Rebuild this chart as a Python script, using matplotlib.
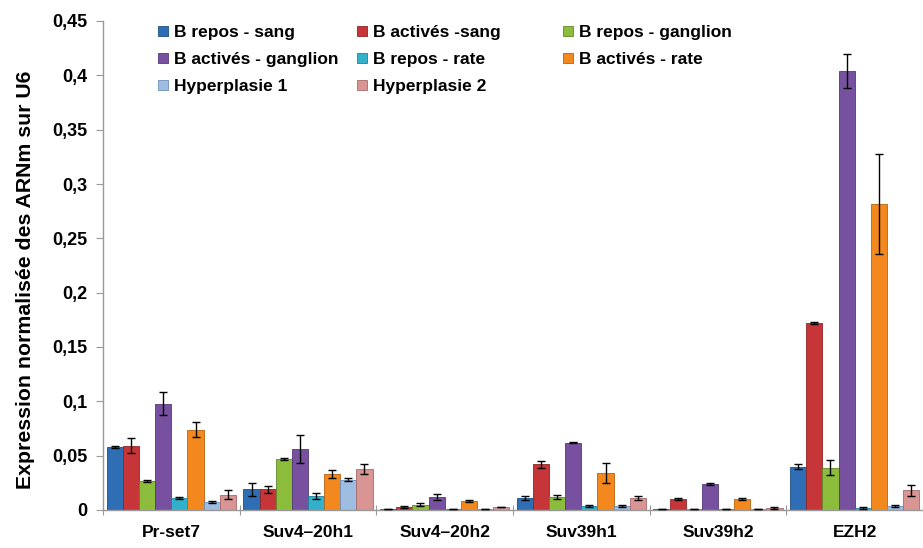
import matplotlib
matplotlib.use("Agg")
import matplotlib.pyplot as plt
import numpy as np

plt.rcParams['font.family'] = ['Liberation Sans', 'DejaVu Sans']

genes = ["Pr-set7", "Suv4\u201320h1", "Suv4\u201320h2", "Suv39h1", "Suv39h2", "EZH2"]
series_names = ["B repos - sang", "B activés -sang", "B repos - ganglion",
                "B activés - ganglion", "B repos - rate", "B activés - rate",
                "Hyperplasie 1", "Hyperplasie 2"]

b_repos_sang = [0.058, 0.019, 0.001, 0.011, 0.0006, 0.040]
b_act_sang = [0.059, 0.019, 0.003, 0.042, 0.010, 0.172]
b_repos_gang = [0.027, 0.047, 0.005, 0.012, 0.0006, 0.039]
b_act_gang = [0.098, 0.056, 0.012, 0.062, 0.024, 0.404]
b_repos_rate = [0.011, 0.013, 0.001, 0.004, 0.0006, 0.002]
b_act_rate = [0.074, 0.033, 0.008, 0.034, 0.010, 0.282]
hyper1 = [0.007, 0.028, 0.0008, 0.004, 0.0005, 0.004]
hyper2 = [0.014, 0.038, 0.003, 0.011, 0.002, 0.018]

err_repos_sang = [0.001, 0.006, 0.0, 0.002, 0.0, 0.002]
err_act_sang = [0.007, 0.003, 0.001, 0.0035, 0.001, 0.001]
err_repos_gang = [0.001, 0.001, 0.001, 0.002, 0.0, 0.007]
err_act_gang = [0.011, 0.013, 0.0025, 0.0005, 0.001, 0.016]
err_repos_rate = [0.001, 0.003, 0.0, 0.001, 0.0, 0.001]
err_act_rate = [0.007, 0.004, 0.001, 0.0095, 0.001, 0.046]
err_hyper1 = [0.001, 0.001, 0.0, 0.001, 0.0, 0.001]
err_hyper2 = [0.004, 0.0045, 0.0, 0.002, 0.001, 0.005]

values = [b_repos_sang, b_act_sang, b_repos_gang, b_act_gang,
          b_repos_rate, b_act_rate, hyper1, hyper2]
errors = [err_repos_sang, err_act_sang, err_repos_gang, err_act_gang,
          err_repos_rate, err_act_rate, err_hyper1, err_hyper2]

colors = ["#2f6db5", "#c63638", "#8cbc3c", "#7750a0", "#33b1cb", "#f3881e",
          "#9dbde3", "#d99494"]
edges = ["#1f4f85", "#8f2426", "#62872a", "#55387a", "#22809a", "#b86210",
         "#6f90b8", "#a86a6a"]

yticks = [0, 0.05, 0.1, 0.15, 0.2, 0.25, 0.3, 0.35, 0.4, 0.45]
ytick_labels = ["0", "0,05", "0,1", "0,15", "0,2", "0,25", "0,3", "0,35", "0,4", "0,45"]

W, H = 923, 548
fig = plt.figure(figsize=(W / 100, H / 100), dpi=100)
ax = fig.add_axes([103 / W, 38 / H, 1 - 103 / W, (510 - 21) / H])

x = np.arange(len(genes))
w = 0.118
handles = []
for i, (vals, errs) in enumerate(zip(values, errors)):
    pos = x + (i - 3.5) * w
    b = ax.bar(pos, vals, width=w, color=colors[i], edgecolor=edges[i],
               linewidth=0.6, label=series_names[i], zorder=2)
    ax.errorbar(pos, vals, yerr=errs, fmt='none', ecolor='black',
                elinewidth=1.0, capsize=3, capthick=1.0, zorder=3)
    handles.append(b)

ax.set_xlim(-0.5, -0.5 + (W - 103) / 138)
ax.set_ylim(0, 0.45)
ax.set_yticks(yticks)
ax.set_yticklabels(ytick_labels, fontsize=13, fontweight='bold')
ax.set_xticks(np.arange(-0.5, len(genes), 1.0))
ax.set_xticklabels([])
ax.set_xticks(x, minor=True)
ax.set_xticklabels(genes, minor=True, fontsize=12.5, fontweight='bold')
ax.tick_params(axis='x', which='minor', length=0, pad=11)
ax.tick_params(axis='x', which='major', length=7, color='#999999', direction='inout')
ax.tick_params(axis='y', length=5, color='#999999', direction='out', pad=6)

for s in ['top', 'right']:
    ax.spines[s].set_visible(False)
for s in ['left', 'bottom']:
    ax.spines[s].set_color('#999999')
    ax.spines[s].set_linewidth(1.0)

ax.set_ylabel("Expression normalisée des ARNm sur U6", fontsize=15.3,
              fontweight='bold')
ax.yaxis.set_label_coords(-68 / (W - 103), 0.5 - 14 / 489)

# legend: three columns, filled row by row
columns = [[0, 3, 6], [1, 4, 7], [2, 5]]
col_x = [158, 357, 563]
for cx, idxs in zip(col_x, columns):
    leg = fig.legend([handles[k] for k in idxs], [series_names[k] for k in idxs],
                     loc='upper left', bbox_to_anchor=(cx / W, 1 - 25 / H),
                     frameon=False, prop={'weight': 'bold', 'size': 12.5},
                     handlelength=0.55, handleheight=0.55, handletextpad=0.35,
                     labelspacing=0.69, borderpad=0, borderaxespad=0)

fig.savefig("out.png", dpi=100)
